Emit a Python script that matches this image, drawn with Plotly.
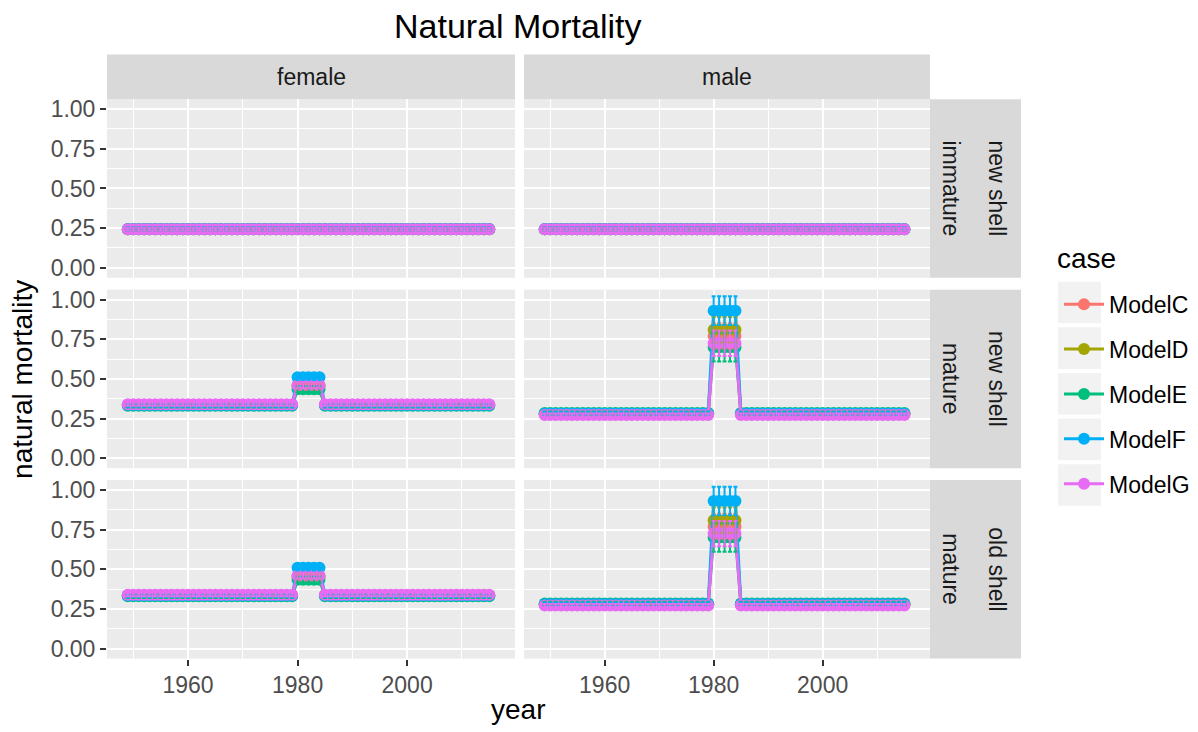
import plotly.graph_objects as go

# ---------------- data ----------------
years = list(range(1949, 2016))
peak_years = [1980, 1981, 1982, 1983, 1984]

models = ["ModelC", "ModelD", "ModelE", "ModelF", "ModelG"]
colors = ["#F8766D", "#A3A500", "#00BF7D", "#00B0F6", "#E76BF3"]

sexes = ["female", "male"]
row_labels = [("immature", "new shell"), ("mature", "new shell"), ("mature", "old shell")]

# base (outside peak) and peak values per model, per panel (row, sex)
imm_base = [0.243, 0.243, 0.243, 0.245, 0.243]
imm_err = [0.01, 0.01, 0.01, 0.01, 0.01]

fem_mat_base = [0.335, 0.335, 0.330, 0.335, 0.340]
fem_mat_peak = [0.450, 0.460, 0.435, 0.510, 0.460]
fem_mat_base_err = [0.01, 0.01, 0.01, 0.01, 0.01]
fem_mat_peak_err = [0.02, 0.02, 0.02, 0.02, 0.02]

mal_mat_base = [0.280, 0.280, 0.285, 0.280, 0.272]
mal_mat_peak = [0.770, 0.810, 0.700, 0.930, 0.725]
mal_mat_base_err = [0.01, 0.01, 0.01, 0.01, 0.01]
mal_mat_peak_err = [0.08, 0.08, 0.09, 0.09, 0.08]

def series(base, peak, berr, perr):
    vals = [peak if y in peak_years else base for y in years]
    errs = [perr if y in peak_years else berr for y in years]
    return vals, errs

panels = {}
for c in range(2):
    panels[(0, c)] = [series(imm_base[m], imm_base[m], imm_err[m], imm_err[m]) for m in range(5)]
for r in (1, 2):
    panels[(r, 0)] = [series(fem_mat_base[m], fem_mat_peak[m], fem_mat_base_err[m], fem_mat_peak_err[m]) for m in range(5)]
    panels[(r, 1)] = [series(mal_mat_base[m], mal_mat_peak[m], mal_mat_base_err[m], mal_mat_peak_err[m]) for m in range(5)]

# ---------------- layout geometry (screen pixels) ----------------
W, H = 1198, 732
def fx(x): return x / W
def fy(y): return 1 - y / H

col_px = [(107, 515), (524, 930)]
row_px = [(97, 277), (289, 469), (481, 661)]
FONT = "Liberation Sans, Arial, sans-serif"

fig = go.Figure()
layout = dict(width=W, height=H, margin=dict(l=0, r=0, t=0, b=0),
              paper_bgcolor="white", plot_bgcolor="#EBEBEB",
              font=dict(family=FONT, color="#000000"), showlegend=True)

for r in range(3):
    for c in range(2):
        i = r * 2 + c + 1
        xa = "x" if i == 1 else f"x{i}"
        ya = "y" if i == 1 else f"y{i}"
        xkey = "xaxis" if i == 1 else f"xaxis{i}"
        ykey = "yaxis" if i == 1 else f"yaxis{i}"
        bottom = (r == 2)
        left = (c == 0)
        layout[xkey] = dict(domain=[fx(col_px[c][0]), fx(col_px[c][1])], anchor=ya,
                            range=[1945.2, 2019.7], tickmode="linear", tick0=1960, dtick=20,
                            showgrid=True, gridcolor="white", gridwidth=2.2, zeroline=False,
                            showline=False, ticks="outside" if bottom else "", ticklen=6,
                            tickwidth=2, tickcolor="#333333", showticklabels=bottom,
                            tickfont=dict(size=23, color="#4D4D4D", family=FONT),
                            minor=dict(tickmode="linear", tick0=1950, dtick=10, showgrid=True,
                                       gridcolor="white", gridwidth=1.1, ticks=""))
        layout[ykey] = dict(domain=[fy(row_px[r][1]), fy(row_px[r][0])], anchor=xa,
                            range=[-0.0625, 1.0625], tickmode="linear", tick0=0, dtick=0.25,
                            tickformat=".2f",
                            showgrid=True, gridcolor="white", gridwidth=2.2, zeroline=False,
                            showline=False, ticks="outside" if left else "", ticklen=6,
                            tickwidth=2, tickcolor="#333333", showticklabels=left,
                            tickfont=dict(size=23, color="#4D4D4D", family=FONT),
                            minor=dict(tickmode="linear", tick0=0.125, dtick=0.25, showgrid=True,
                                       gridcolor="white", gridwidth=1.1, ticks=""))
        data = panels[(r, c)]
        for m in range(5):
            vals, errs = data[m]
            fig.add_trace(go.Scatter(x=years, y=vals, xaxis=xa, yaxis=ya, mode="lines+markers",
                                     line=dict(color=colors[m], width=3),
                                     marker=dict(color=colors[m], size=12),
                                     name=models[m], legendgroup=models[m],
                                     showlegend=(i == 1), hoverinfo="skip"))
        for m in range(5):
            vals, errs = data[m]
            fig.add_trace(go.Scatter(x=years, y=vals, xaxis=xa, yaxis=ya, mode="markers",
                                     marker=dict(color=colors[m], size=1, opacity=0),
                                     error_y=dict(type="data", array=errs, visible=True,
                                                  color=colors[m], thickness=2, width=2),
                                     showlegend=False, legendgroup=models[m], hoverinfo="skip"))

shapes = []
annotations = []
for c, s in enumerate(sexes):
    shapes.append(dict(type="rect", xref="paper", yref="paper", x0=fx(col_px[c][0]), x1=fx(col_px[c][1]),
                       y0=fy(97), y1=fy(52), fillcolor="#D9D9D9", line=dict(width=0), layer="below"))
    annotations.append(dict(text=s, xref="paper", yref="paper", x=fx((col_px[c][0] + col_px[c][1]) / 2),
                            y=fy(74.5), showarrow=False, xanchor="center", yanchor="middle",
                            font=dict(size=23, color="#1A1A1A", family=FONT)))
for r, (mat, shell) in enumerate(row_labels):
    shapes.append(dict(type="rect", xref="paper", yref="paper", x0=fx(930), x1=fx(1021),
                       y0=fy(row_px[r][1]), y1=fy(row_px[r][0]), fillcolor="#D9D9D9",
                       line=dict(width=0), layer="below"))
    ymid = fy((row_px[r][0] + row_px[r][1]) / 2)
    annotations.append(dict(text=mat, xref="paper", yref="paper", x=fx(951), y=ymid, textangle=90,
                            showarrow=False, xanchor="center", yanchor="middle",
                            font=dict(size=23, color="#1A1A1A", family=FONT)))
    annotations.append(dict(text=shell, xref="paper", yref="paper", x=fx(997), y=ymid, textangle=90,
                            showarrow=False, xanchor="center", yanchor="middle",
                            font=dict(size=23, color="#1A1A1A", family=FONT)))

annotations.append(dict(text="Natural Mortality", xref="paper", yref="paper", x=fx(518), y=fy(23),
                        showarrow=False, xanchor="center", yanchor="middle",
                        font=dict(size=34, color="#000000", family=FONT)))
annotations.append(dict(text="year", xref="paper", yref="paper", x=fx(518), y=fy(712),
                        showarrow=False, xanchor="center", yanchor="middle",
                        font=dict(size=28, color="#000000", family=FONT)))
annotations.append(dict(text="natural mortality", xref="paper", yref="paper", x=fx(23), y=fy(380),
                        textangle=-90, showarrow=False, xanchor="center", yanchor="middle",
                        font=dict(size=28, color="#000000", family=FONT)))
# legend title
annotations.append(dict(text="case", xref="paper", yref="paper", x=fx(1055), y=fy(258),
                        showarrow=False, xanchor="left", yanchor="middle",
                        font=dict(size=28, color="#000000", family=FONT)))

for k in range(5):
    y0 = 281 + 46 * k
    shapes.append(dict(type="rect", xref="paper", yref="paper", x0=fx(1058), x1=fx(1101),
                       y0=fy(y0 + 42), y1=fy(y0), fillcolor="#F2F2F2", line=dict(width=0),
                       layer="below"))

layout["shapes"] = shapes
layout["annotations"] = annotations
layout["legend"] = dict(x=fx(1059), y=fy(282), xanchor="left", yanchor="top",
                        bgcolor="rgba(0,0,0,0)", tracegroupgap=12, itemwidth=40,
                        font=dict(size=23, color="#000000", family=FONT))
fig.update_layout(**layout)
fig.write_html("out.html", config={"displayModeBar": False},
               post_script="document.body.style.margin='0px';document.body.style.overflow='hidden';")
